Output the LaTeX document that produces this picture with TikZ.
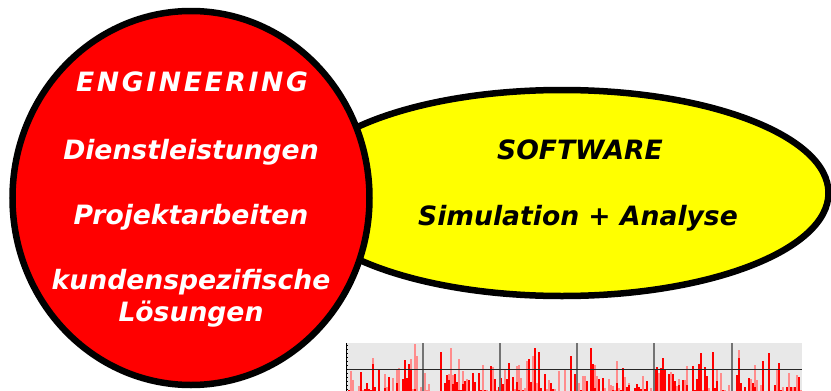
\documentclass[tikz,border=0pt]{standalone}
\usepackage{fontspec}
\setmainfont{DejaVu Sans}
\usetikzlibrary{shapes.geometric}
\definecolor{myred}{RGB}{255,0,0}
\definecolor{myyellow}{RGB}{255,255,0}
\definecolor{chartbg}{RGB}{232,232,232}
\begin{document}
\begin{tikzpicture}[x=1pt,y=-1pt,
  lbl/.style={font=\fontsize{26.6}{29}\selectfont\bfseries\itshape, inner sep=0pt, align=center},
  whitelbl/.style={lbl, text=white},
  blacklbl/.style={lbl, text=black}]
\useasboundingbox (0,0) rectangle (831,391);
\fill[white] (0,0) rectangle (831,391);
% yellow ellipse
\node (sw) [ellipse, draw=black, line width=6.5pt, fill=myyellow, minimum width=533pt, minimum height=206pt, inner sep=0pt] at (562,193) {};
% red circle
\node (eng) [ellipse, draw=black, line width=6.5pt, fill=myred, minimum width=357pt, minimum height=374pt, inner sep=0pt] at (191,198) {};
% texts
\node (t1) [whitelbl, font=\fontsize{26.6}{29}\selectfont\bfseries\itshape\addfontfeatures{LetterSpace=10}] at (192,82) {ENGINEERING};
\node (t2) [whitelbl] at (191,152) {Dienstleistungen};
\node (t3) [whitelbl] at (191,217) {Projektarbeiten};
\node (t4) [whitelbl] at (191,282) {kundenspezifische};
\node (t5) [whitelbl] at (191,314) {Lösungen};
\node (s1) [blacklbl] at (580,150) {SOFTWARE};
\node (s2) [blacklbl] at (578,218) {Simulation + Analyse};
% chart
\fill[chartbg] (346,343) rectangle (802,391);
\begin{scope}
\clip (346,343) rectangle (802,391);
\pgfmathsetseed{4711}
\foreach \g in {0,...,37}{
  \pgfmathsetmacro{\amp}{rnd<0.3 ? 20 : 25+30*rnd}
  \foreach \k in {0,...,5}{
    \pgfmathsetmacro{\xx}{348+(\g*6+\k)*2}
    \pgfmathsetmacro{\ha}{rnd<0.5 ? 0 : \amp*rnd^2.2}
    \pgfmathsetmacro{\hb}{rnd<0.45 ? 0 : \amp*rnd^2.2}
    \fill[myred!45] (\xx,391) rectangle ++(1.6,-\ha);
    \fill[myred] (\xx+0.2,391) rectangle ++(1.4,-\hb);
  }
}
\end{scope}
\foreach \gx in {423,500,577,654,732}{
  \draw[black!55, line width=1.3pt] (\gx,343) -- (\gx,391);
}
\draw[black!85, line width=0.8pt] (346,369) -- (802,369);
\draw[black, line width=0.8pt] (346,343) -- (346,391);
\foreach \ty in {345,349,...,391}{
  \draw[black, line width=0.5pt] (346,\ty) -- (348,\ty);
}
\end{tikzpicture}
\end{document}
